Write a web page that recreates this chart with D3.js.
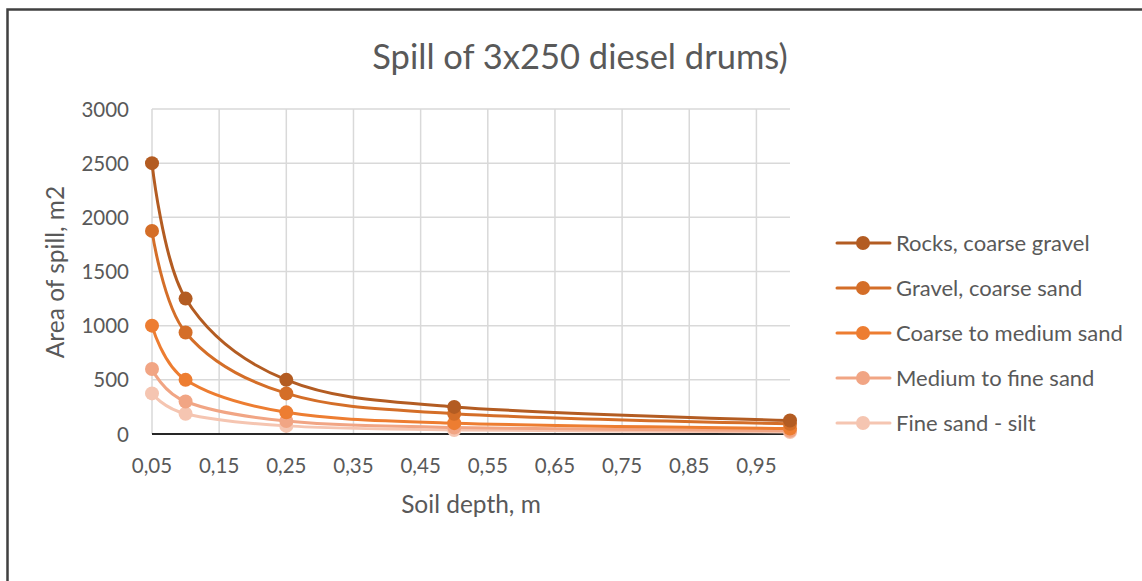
<!DOCTYPE html>
<html><head><meta charset="utf-8">
<script src="https://cdn.jsdelivr.net/npm/d3@7"></script>
<style>html,body{margin:0;padding:0;background:#fff;overflow:hidden}svg{display:block}</style>
</head><body>
<script>
const depths = [0.05, 0.1, 0.25, 0.5, 1.0];
const seriesNames = ["Rocks, coarse gravel", "Gravel, coarse sand", "Coarse to medium sand", "Medium to fine sand", "Fine sand - silt"];
const rocks = [2500, 1250, 500, 250, 125];
const gravel = [1875, 937.5, 375, 187.5, 93.75];
const coarseMedium = [1000, 500, 200, 100, 50];
const mediumFine = [600, 300, 120, 60, 30];
const fineSilt = [375, 187.5, 75, 37.5, 18.75];
const seriesColors = ["#b35c22", "#d46e28", "#ed7d31", "#f1a584", "#f5c5b1"];
const xTicks = [0.05, 0.15, 0.25, 0.35, 0.45, 0.55, 0.65, 0.75, 0.85, 0.95];
const yTicks = [0, 500, 1000, 1500, 2000, 2500, 3000];
const title = "Spill of 3x250 diesel drums)";
const xTitle = "Soil depth, m";
const yTitle = "Area of spill, m2";

const W = 1142, H = 581;
const font = "Lato, 'Open Sans', sans-serif";
const textColor = "#595959";
const svg = d3.select("body").append("svg").attr("width", W).attr("height", H);

svg.append("rect").attr("x", 7.5).attr("y", 9.5).attr("width", 1150).attr("height", 600)
  .attr("fill", "#fff").attr("stroke", "#404040").attr("stroke-width", 2.5);

const x = d3.scaleLinear().domain([0.05, 1.0]).range([152, 790]);
const y = d3.scaleLinear().domain([0, 3000]).range([434, 109]);

// gridlines
const g = svg.append("g");
g.selectAll("line.h").data(yTicks.filter(d => d > 0)).join("line")
  .attr("x1", x(0.05)).attr("x2", x(1.0)).attr("y1", d => y(d)).attr("y2", d => y(d))
  .attr("stroke", "#d9d9d9").attr("stroke-width", 1.5);
g.selectAll("line.v").data(xTicks).join("line")
  .attr("x1", d => x(d)).attr("x2", d => x(d)).attr("y1", y(0)).attr("y2", y(3000))
  .attr("stroke", "#d9d9d9").attr("stroke-width", 1.5);

// x axis line
svg.append("line").attr("x1", x(0.05)).attr("x2", x(1.0)).attr("y1", y(0)).attr("y2", y(0))
  .attr("stroke", "#262626").attr("stroke-width", 2);

// tick labels
const fmt = d => d.toFixed(2).replace(".", ",");
svg.selectAll("text.xt").data(xTicks).join("text")
  .attr("x", d => x(d)).attr("y", 473).attr("text-anchor", "middle")
  .attr("font-family", font).attr("font-size", 20.5).attr("fill", textColor).text(fmt);
svg.selectAll("text.yt").data(yTicks).join("text")
  .attr("x", 129).attr("y", d => y(d) + 7.5).attr("text-anchor", "end")
  .attr("font-family", font).attr("font-size", 20.5).attr("fill", textColor).text(d => d);

// titles
svg.append("text").attr("x", 580).attr("y", 69).attr("text-anchor", "middle")
  .attr("font-family", font).attr("font-size", 34.5).attr("fill", textColor).text(title);
svg.append("text").attr("x", 471).attr("y", 513).attr("text-anchor", "middle")
  .attr("font-family", font).attr("font-size", 24.5).attr("fill", textColor).text(xTitle);
svg.append("text").attr("transform", "translate(64,272) rotate(-90)").attr("text-anchor", "middle")
  .attr("font-family", font).attr("font-size", 24.5).attr("fill", textColor).text(yTitle);

// series
const allValues = [rocks, gravel, coarseMedium, mediumFine, fineSilt];
const series = seriesNames.map((n, i) => ({name: n, color: seriesColors[i], pts: depths.map((d, j) => [d, allValues[i][j]])}));
const line = d3.line().x(d => x(d[0])).y(d => y(d[1])).curve(d3.curveCardinal.tension(0));
const sg = svg.append("g");
series.slice().reverse().forEach(s => {
  sg.append("path").attr("d", line(s.pts)).attr("fill", "none").attr("stroke", s.color)
    .attr("stroke-width", 3).attr("stroke-linecap", "round");
});
series.slice().reverse().forEach(s => {
  sg.selectAll(null).data(s.pts).join("circle")
    .attr("cx", d => x(d[0])).attr("cy", d => y(d[1])).attr("r", 7).attr("fill", s.color);
});

// legend
const lg = svg.append("g");
series.forEach((s, i) => {
  const yy = 243 + i * 45;
  lg.append("line").attr("x1", 837).attr("x2", 890).attr("y1", yy).attr("y2", yy)
    .attr("stroke", s.color).attr("stroke-width", 3).attr("stroke-linecap", "round");
  lg.append("circle").attr("cx", 863).attr("cy", yy).attr("r", 7).attr("fill", s.color);
  lg.append("text").attr("x", 896).attr("y", yy + 7.5).attr("font-family", font)
    .attr("font-size", 22).attr("fill", textColor).text(s.name);
});
</script>
</body></html>
